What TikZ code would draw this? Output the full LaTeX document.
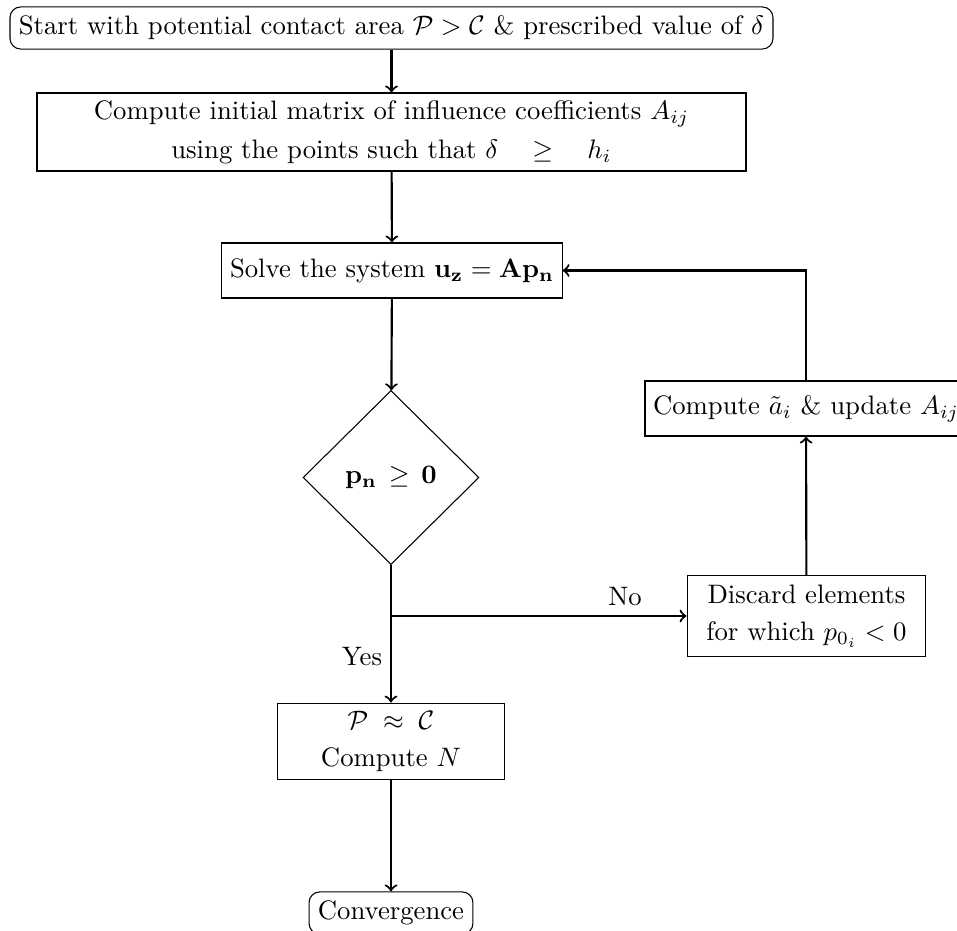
\documentclass[tikz,border=0pt]{standalone}
\usetikzlibrary{shapes.geometric}
\begin{document}
\begin{tikzpicture}[x=0.3746pt,y=-0.3746pt,
  every node/.style={font=\normalsize},
  term/.style={draw, thin, rounded corners=4pt, align=center},
  proc/.style={draw, thin, align=center, inner sep=0pt},
  dec/.style={draw, thin, shape=diamond, inner sep=0pt, minimum width=65.9pt, minimum height=65.2pt, align=center},
  arr/.style={->, thick},
  lbl/.style={inner sep=1pt}]
\useasboundingbox (0,0) rectangle (957,931);
\node[term] (start) at (391.5,28) {Start with potential contact area $\mathcal{P} > \mathcal{C}$ \& prescribed value of $\delta$};
\node[proc, minimum width=265.6pt, minimum height=29.2pt] (init) at (391.5,132)
  {Compute initial matrix of influence coefficients $A_{ij}$\\[2.5pt] using the points such that $\delta\quad\geq\quad h_i$};
\node[proc, minimum width=127.4pt, minimum height=20.6pt] (solve) at (392,270.5)
  {Solve the system $\mathbf{u_z} = \mathbf{Ap_n}$};
\node[dec] (check) at (391,477.5) {$\mathbf{p_n}\,\geq\,\mathbf{0}$};
\node[proc, minimum width=120.6pt, minimum height=20.6pt] (update) at (806,408.5)
  {Compute $\tilde{a}_i$ \& update $A_{ij}$};
\node[proc, minimum width=89.5pt, minimum height=30pt] (discard) at (806.5,616)
  {Discard elements\\[2pt] for which $p_{0_i} < 0$};
\node[proc, minimum width=84.7pt, minimum height=28.8pt] (approx) at (391,741.5)
  {$\mathcal{P}\;\approx\;\mathcal{C}$\\[2pt] Compute $N$};
\node[term] (conv) at (391,913) {Convergence};
\coordinate (branch) at (391,616);
\node[lbl] (no) at (625,597) {No};
\node[lbl] (yes) at (362,657) {Yes};
\draw[arr] (start) -- (init);
\draw[arr] (init) -- (solve);
\draw[arr] (solve) -- (check);
\draw[arr] (check) -- (approx);
\draw[arr] (branch) -- (discard.west);
\draw[arr] (discard) -- (update);
\draw[arr] (update.north) |- (solve.east);
\draw[arr] (approx) -- (conv);
\end{tikzpicture}
\end{document}
